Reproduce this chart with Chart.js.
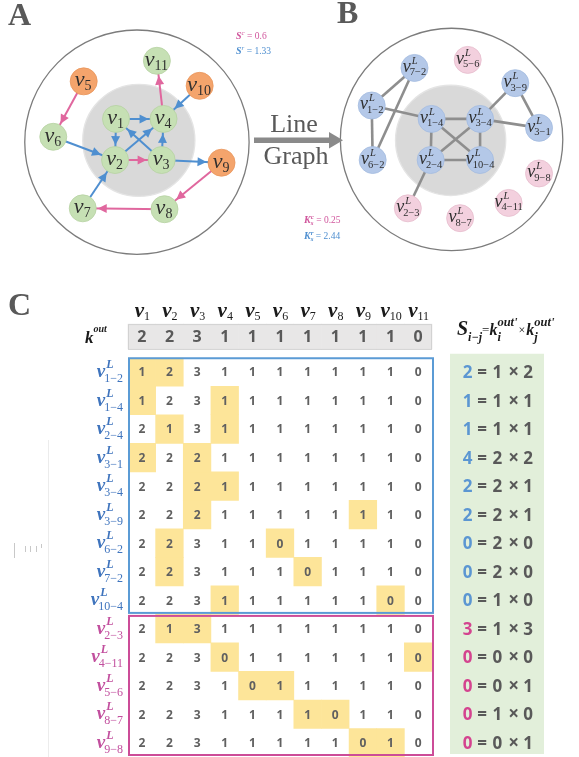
<!DOCTYPE html>
<html>
<head>
<meta charset="utf-8">
<script src="https://cdn.jsdelivr.net/npm/chart.js@4/dist/chart.umd.min.js"></script>
<style>
html, body { margin: 0; padding: 0; background: #fff; }
#wrap { position: relative; width: 579px; height: 757px; overflow: hidden; }
canvas { position: absolute; left: 0; }
#netChart { top: 0; width: 579px; height: 270px; }
#matChart { top: 270px; width: 579px; height: 487px; }
</style>
</head>
<body>
<div id="wrap">
  <canvas id="netChart" width="579" height="270"></canvas>
  <canvas id="matChart" width="579" height="487"></canvas>
</div>
<script>
// ---- panel A: the directed network ----
const nodesA = ['1', '2', '3', '4', '5', '6', '7', '8', '9', '10', '11'];
const kindA = ['core', 'core', 'core', 'core', 'out', 'core', 'core', 'core', 'out', 'out', 'core'];
const layoutAX = [107, 106, 155, 157, 73, 41, 72, 158, 218, 195, 150];
const layoutAY = [117, 163, 163, 117, 75, 137, 217, 218, 166, 80, 52];
// [from, to, type]  r = rich-club link (blue), c = other link (pink)
const edgesA = [
  ['1', '4', 'r'], ['1', '2', 'r'], ['2', '4', 'r'], ['3', '1', 'r'], ['3', '4', 'r'],
  ['3', '9', 'r'], ['6', '2', 'r'], ['7', '2', 'r'], ['10', '4', 'r'],
  ['5', '6', 'c'], ['4', '11', 'c'], ['2', '3', 'c'], ['9', '8', 'c'], ['8', '7', 'c']
];
const statsA = [['c', '0.6'], ['r', '1.33']];

// ---- panel B: the line graph ----
const nodesB = ['1-2', '1-4', '2-4', '3-1', '3-4', '3-9', '6-2', '7-2', '10-4', '2-3', '4-11', '5-6', '8-7', '9-8'];
const kindB = ['r', 'r', 'r', 'r', 'r', 'r', 'r', 'r', 'r', 'c', 'c', 'c', 'c', 'c'];
const layoutBX = [376, 439, 438, 552, 490, 527, 377, 421, 490, 414, 520, 477, 469, 552];
const layoutBY = [102, 117, 163, 127, 117, 77, 163, 60, 163, 217, 211, 51, 228, 178];
const edgesB = [
  ['7-2', '1-2'], ['7-2', '6-2'], ['1-2', '6-2'], ['1-2', '1-4'], ['1-4', '3-4'],
  ['1-4', '2-4'], ['1-4', '10-4'], ['3-4', '2-4'], ['3-4', '10-4'], ['2-4', '10-4'],
  ['3-4', '3-9'], ['3-4', '3-1'], ['3-9', '3-1'], ['2-4', '2-3']
];
const statsB = [['c', '0.25'], ['r', '2.44']];

// ---- panel C: the out-degree matrix ----
const colLabels = ['1', '2', '3', '4', '5', '6', '7', '8', '9', '10', '11'];
const kOut = [2, 2, 3, 1, 1, 1, 1, 1, 1, 1, 0];
const rowLabels = nodesB;
const rowKind = kindB;
const matrix = [
  [1, 2, 3, 1, 1, 1, 1, 1, 1, 1, 0],
  [1, 2, 3, 1, 1, 1, 1, 1, 1, 1, 0],
  [2, 1, 3, 1, 1, 1, 1, 1, 1, 1, 0],
  [2, 2, 2, 1, 1, 1, 1, 1, 1, 1, 0],
  [2, 2, 2, 1, 1, 1, 1, 1, 1, 1, 0],
  [2, 2, 2, 1, 1, 1, 1, 1, 1, 1, 0],
  [2, 2, 3, 1, 1, 0, 1, 1, 1, 1, 0],
  [2, 2, 3, 1, 1, 1, 0, 1, 1, 1, 0],
  [2, 2, 3, 1, 1, 1, 1, 1, 1, 0, 0],
  [2, 1, 3, 1, 1, 1, 1, 1, 1, 1, 0],
  [2, 2, 3, 0, 1, 1, 1, 1, 1, 1, 0],
  [2, 2, 3, 1, 0, 1, 1, 1, 1, 1, 0],
  [2, 2, 3, 1, 1, 1, 1, 0, 1, 1, 0],
  [2, 2, 3, 1, 1, 1, 1, 1, 0, 1, 0]
];
// highlighted columns (1-based) in each row
const marked = [[1, 2], [1, 4], [2, 4], [1, 3], [3, 4], [3, 9], [2, 6], [2, 7], [4, 10], [2, 3], [4, 11], [5, 6], [7, 8], [9, 10]];
const sVal = [2, 1, 1, 4, 2, 2, 0, 0, 0, 3, 0, 0, 0, 0];
const kiVal = [1, 1, 1, 2, 2, 2, 2, 2, 1, 1, 0, 0, 1, 0];
const kjVal = [2, 1, 1, 2, 1, 1, 0, 0, 0, 3, 0, 1, 0, 1];

const SERIF = '"Liberation Serif", "Times New Roman", serif';
const SANS = '"Open Sans", "Noto Sans", sans-serif';
const BLUE = '#5b9bd5';
const GREY = '#595959';

function rich(ctx, x, y, parts, align) {
  // parts: {t, f, c, dy, gap} or {up, dn, f, c, dyUp, dyDn}
  const widths = parts.map(p => {
    ctx.font = p.f;
    if (p.up !== undefined) return Math.max(ctx.measureText(p.up).width, ctx.measureText(p.dn).width);
    return ctx.measureText(p.t).width + (p.gap || 0);
  });
  const total = widths.reduce((a, b) => a + b, 0);
  let cx = align === 'center' ? x - total / 2 : align === 'right' ? x - total : x;
  ctx.textAlign = 'left';
  ctx.textBaseline = 'alphabetic';
  parts.forEach((p, i) => {
    ctx.font = p.f;
    ctx.fillStyle = p.c;
    if (p.up !== undefined) {
      ctx.fillText(p.up, cx, y + p.dyUp);
      ctx.fillText(p.dn, cx, y + p.dyDn);
    } else {
      ctx.fillText(p.t, cx + (p.gap || 0) / 2, y + (p.dy || 0));
    }
    cx += widths[i];
  });
}

function vLabel(ctx, x, base, o) {
  const b = o.bold ? 'bold ' : '';
  const vf = b + 'italic ' + o.size + 'px ' + SERIF;
  const supf = b + 'italic ' + o.small + 'px ' + SERIF;
  const subf = o.small + 'px ' + SERIF;
  ctx.font = vf; const wv = ctx.measureText('v').width;
  ctx.font = supf; const wsup = o.sup ? ctx.measureText(o.sup).width : 0;
  ctx.font = subf; const wsub = ctx.measureText(o.sub).width;
  const w = wv + Math.max(wsup + 1, wsub - 1);
  const x0 = o.align === 'right' ? x - w : x - w / 2;
  ctx.textAlign = 'left'; ctx.textBaseline = 'alphabetic'; ctx.fillStyle = o.color;
  ctx.font = vf; ctx.fillText('v', x0, base);
  if (o.sup) { ctx.font = supf; ctx.fillText(o.sup, x0 + wv + 1, base + o.supDy); }
  ctx.font = subf; ctx.fillText(o.sub, x0 + wv - (o.sup ? 1 : 0), base + o.subDy);
}

const posA = Object.fromEntries(nodesA.map((n, i) => [n, { x: layoutAX[i], y: layoutAY[i] }]));
const posB = Object.fromEntries(nodesB.map((n, i) => [n, { x: layoutBX[i], y: layoutBY[i] }]));
const NODE_R = 13.5;

const netDatasets = [
  {
    label: 'A nodes', order: 0,
    data: nodesA.map(n => posA[n]),
    pointRadius: NODE_R, pointHoverRadius: NODE_R,
    pointBackgroundColor: kindA.map(k => k === 'core' ? '#c6e0b4' : '#f4a46c'),
    pointBorderColor: kindA.map(k => k === 'core' ? '#b6d2a2' : '#e8955c'),
    pointBorderWidth: 0.8
  },
  {
    label: 'B nodes', order: 0,
    data: nodesB.map(n => posB[n]),
    pointRadius: NODE_R, pointHoverRadius: NODE_R,
    pointBackgroundColor: kindB.map(k => k === 'r' ? '#b4c8e8' : '#f3d0de'),
    pointBorderColor: kindB.map(k => k === 'r' ? '#a3bbdf' : '#e6bccd'),
    pointBorderWidth: 0.8
  }
];
edgesA.forEach(e => netDatasets.push({
  label: 'A ' + e[0] + '>' + e[1], order: 2, showLine: true,
  data: [posA[e[0]], posA[e[1]]],
  borderColor: e[2] === 'r' ? '#4f8fd0' : '#e0679e', borderWidth: 2, pointRadius: 0
}));
edgesB.forEach(e => netDatasets.push({
  label: 'B ' + e[0] + '-' + e[1], order: 2, showLine: true,
  data: [posB[e[0]], posB[e[1]]],
  borderColor: '#8e8e8e', borderWidth: 2.6, pointRadius: 0
}));

const netDeco = {
  id: 'netDeco',
  beforeDatasetsDraw(chart) {
    const { ctx, scales: { x, y } } = chart;
    const circ = (cx, cy, r, fill, stroke) => {
      ctx.beginPath();
      ctx.arc(x.getPixelForValue(cx), y.getPixelForValue(cy), x.getPixelForValue(r) - x.getPixelForValue(0), 0, Math.PI * 2);
      if (fill) { ctx.fillStyle = fill; ctx.fill(); }
      if (stroke) { ctx.strokeStyle = stroke; ctx.lineWidth = 1.3; ctx.stroke(); }
    };
    ctx.save();
    circ(129, 143, 118, null, '#7c7c7c');
    circ(131, 141, 59, '#d9d9d9', '#e4e4e4');
    circ(460, 140, 117, null, '#7c7c7c');
    circ(459, 141, 58, '#d9d9d9', '#e4e4e4');
    ctx.restore();
  },
  afterDatasetsDraw(chart) {
    const { ctx, scales: { x, y } } = chart;
    ctx.save();
    // arrow heads on panel A
    edgesA.forEach(e => {
      const a = posA[e[0]], b = posA[e[1]];
      const ax = x.getPixelForValue(a.x), ay = y.getPixelForValue(a.y);
      const bx = x.getPixelForValue(b.x), by = y.getPixelForValue(b.y);
      const d = Math.hypot(bx - ax, by - ay), ux = (bx - ax) / d, uy = (by - ay) / d;
      const tx = bx - ux * (NODE_R + 1.5), ty = by - uy * (NODE_R + 1.5);
      const L = 9, W = 4.5;
      ctx.beginPath();
      ctx.moveTo(tx, ty);
      ctx.lineTo(tx - ux * L - uy * W, ty - uy * L + ux * W);
      ctx.lineTo(tx - ux * L + uy * W, ty - uy * L - ux * W);
      ctx.closePath();
      ctx.fillStyle = e[2] === 'r' ? '#4f8fd0' : '#e0679e';
      ctx.fill();
    });
    // node labels
    nodesA.forEach(n => {
      vLabel(ctx, x.getPixelForValue(posA[n].x) - 1, y.getPixelForValue(posA[n].y) + 5,
        { size: 22, small: 14, sub: n, subDy: 4, color: '#2f2f2f', align: 'center' });
    });
    nodesB.forEach(n => {
      vLabel(ctx, x.getPixelForValue(posB[n].x), y.getPixelForValue(posB[n].y) + 4,
        { size: 18, small: 10.5, sup: 'L', supDy: -8, sub: n.replace('-', '\u2212'), subDy: 3.5, color: '#2f2f2f', align: 'center' });
    });
    // panel letters
    ctx.fillStyle = GREY;
    ctx.font = 'bold 32px ' + SERIF;
    ctx.textAlign = 'left'; ctx.textBaseline = 'alphabetic';
    ctx.fillText('A', 8, 25);
    ctx.fillText('B', 337, 23);
    // S values (panel A)
    statsA.forEach((s, i) => {
      const col = s[0] === 'c' ? '#d0559c' : '#4f8fd0';
      rich(ctx, 236, 39 + i * 15, [
        { t: 'S', f: 'bold italic 10px ' + SERIF, c: col },
        { t: s[0], f: 'italic 7px ' + SERIF, c: col, dy: -4 },
        { t: ' = ' + s[1], f: '9.5px ' + SERIF, c: col }
      ], 'left');
    });
    // K values (panel B)
    statsB.forEach((s, i) => {
      const col = s[0] === 'c' ? '#d0559c' : '#4f8fd0';
      rich(ctx, 304, 223 + i * 15.5, [
        { t: 'K', f: 'bold italic 10px ' + SERIF, c: col },
        { up: s[0], dn: 's', f: 'bold italic 7px ' + SERIF, c: col, dyUp: -4, dyDn: 2 },
        { t: ' = ' + s[1], f: '9.5px ' + SERIF, c: col }
      ], 'left');
    });
    // "Line Graph" arrow
    ctx.fillStyle = '#8a8a8a';
    ctx.fillRect(254, 137.5, 76, 5.5);
    ctx.beginPath();
    ctx.moveTo(329, 132); ctx.lineTo(343, 140.2); ctx.lineTo(329, 148.5); ctx.closePath();
    ctx.fill();
    ctx.fillStyle = GREY;
    ctx.font = '26px ' + SERIF;
    ctx.textAlign = 'center';
    ctx.fillText('Line', 294, 132);
    ctx.fillText('Graph', 296, 164);
    ctx.restore();
  }
};

new Chart(document.getElementById('netChart'), {
  type: 'scatter',
  data: { datasets: netDatasets },
  options: {
    responsive: false, animation: false, events: [],
    layout: { padding: 0 },
    plugins: { legend: { display: false }, tooltip: { enabled: false } },
    scales: {
      x: { type: 'linear', display: false, min: 0, max: 579 },
      y: { type: 'linear', display: false, min: 0, max: 270, reverse: true }
    }
  },
  plugins: [netDeco]
});

// ---- matrix chart ----
const BAND = [-0.68, 0.19];
const matDatasets = [{
  label: 'k out band', data: kOut.map(() => BAND), backgroundColor: '#e8e7e7',
  borderWidth: 0, clip: false, grouped: false, barPercentage: 1, categoryPercentage: 1
}];
marked.forEach((cols, r) => {
  matDatasets.push({
    label: 'row ' + rowLabels[r],
    data: colLabels.map((c, j) => cols.includes(j + 1) ? [r + 0.5, r + 1.5] : null),
    backgroundColor: '#fde599', borderWidth: 0, grouped: false,
    barPercentage: 1, categoryPercentage: 1
  });
});

const matDeco = {
  id: 'matDeco',
  afterDatasetsDraw(chart) {
    const { ctx, scales: { x, y } } = chart;
    const X = j => x.getPixelForValue(j);
    const Y = v => y.getPixelForValue(v);
    const left = chart.chartArea.left, right = chart.chartArea.right;
    ctx.save();
    // faint marks at the far left
    ctx.strokeStyle = '#ececec'; ctx.lineWidth = 1;
    ctx.beginPath(); ctx.moveTo(48.5, 170); ctx.lineTo(48.5, 487); ctx.stroke();
    ctx.strokeStyle = '#c8c8c8';
    [[14, 273, 288], [25, 276, 282], [30, 276, 282], [36, 276, 282], [41, 274, 278]].forEach(m => {
      ctx.beginPath(); ctx.moveTo(m[0] + 0.5, m[1]); ctx.lineTo(m[0] + 0.5, m[2]); ctx.stroke();
    });
    // band outline
    ctx.strokeStyle = '#d2d2d2'; ctx.lineWidth = 1;
    ctx.strokeRect(left + 0.5, Y(BAND[0]) + 0.5, right - left - 1, Y(BAND[1]) - Y(BAND[0]));
    // panel letter
    ctx.fillStyle = GREY; ctx.font = 'bold 32px ' + SERIF; ctx.textAlign = 'left'; ctx.textBaseline = 'alphabetic';
    ctx.fillText('C', 8, 45);
    // column headers
    colLabels.forEach((c, j) => {
      vLabel(ctx, X(j), Y(-0.93), { bold: true, size: 21, small: 12, sub: c, subDy: 3, color: '#1a1a1a', align: 'center' });
    });
    // k^out label
    rich(ctx, 85, Y(-0.245) + 6, [
      { t: 'k', f: 'bold italic 17px ' + SERIF, c: '#1a1a1a' },
      { t: 'out', f: 'bold italic 10px ' + SERIF, c: '#1a1a1a', dy: -11 }
    ], 'left');
    // k^out numbers
    ctx.textAlign = 'center'; ctx.textBaseline = 'middle';
    ctx.font = 'bold 16px ' + SANS; ctx.fillStyle = GREY;
    kOut.forEach((v, j) => ctx.fillText(String(v), X(j), Y(-0.245) + 1));
    // cell numbers
    ctx.font = 'bold 12px ' + SANS; ctx.fillStyle = '#606060';
    matrix.forEach((row, r) => row.forEach((v, j) => ctx.fillText(String(v), X(j), Y(r + 1) + 1)));
    // row labels
    rowLabels.forEach((n, r) => {
      vLabel(ctx, 123, Y(r + 1) + 5, {
        bold: true, size: 19, small: 12, sup: 'L', supDy: -9, sub: n.replace('-', '\u2212'), subDy: 5,
        color: rowKind[r] === 'r' ? '#3f74bd' : '#c24f9e', align: 'right'
      });
    });
    // group boxes
    const split = rowKind.indexOf('c');
    ctx.lineWidth = 2;
    ctx.strokeStyle = BLUE;
    ctx.strokeRect(left + 1, Y(0.5) + 0.5, right - left, Y(split + 0.5) - Y(0.5) - 2);
    ctx.strokeStyle = '#cc4c98';
    ctx.strokeRect(left + 1, Y(split + 0.5) + 1.5, right - left, Y(rowKind.length + 0.5) - Y(split + 0.5) - 3.5);
    // equation column
    ctx.fillStyle = '#e2efda';
    ctx.fillRect(450, Y(0.5) - 4, 94, Y(14.5) - Y(0.5) + 1);
    const eqF = 'bold 17px ' + SANS;
    sVal.forEach((s, r) => {
      rich(ctx, 497, Y(r + 1) + 6, [
        { t: String(s), f: eqF, c: rowKind[r] === 'r' ? '#5b96d2' : '#d4438f', gap: 3 },
        { t: '=', f: eqF, c: GREY, gap: 7 },
        { t: String(kiVal[r]), f: eqF, c: GREY, gap: 4 },
        { t: '\u00d7', f: 'bold 19px ' + SANS, c: GREY, gap: 8 },
        { t: String(kjVal[r]), f: eqF, c: GREY }
      ], 'center');
    });
    // equation header
    const hb = 65, ink = '#1a1a1a';
    rich(ctx, 457, hb, [
      { t: 'S', f: 'bold italic 20px ' + SERIF, c: ink },
      { t: 'i\u2212j', f: 'bold italic 12px ' + SERIF, c: ink, dy: 6 },
      { t: '=', f: '13px ' + SERIF, c: ink, dy: -1 },
      { t: 'k', f: 'bold italic 16px ' + SERIF, c: ink },
      { up: "out'", dn: 'i', f: 'bold italic 12.5px ' + SERIF, c: ink, dyUp: -9, dyDn: 6 },
      { t: '\u00d7', f: '12px ' + SERIF, c: ink, dy: -1, gap: 2 },
      { t: 'k', f: 'bold italic 16px ' + SERIF, c: ink },
      { up: "out'", dn: 'j', f: 'bold italic 12.5px ' + SERIF, c: ink, dyUp: -9, dyDn: 6 }
    ], 'left');
    ctx.restore();
  }
};

new Chart(document.getElementById('matChart'), {
  type: 'bar',
  data: { labels: colLabels.map(c => 'v' + c), datasets: matDatasets },
  options: {
    responsive: false, animation: false, events: [],
    layout: { padding: { left: 128, right: 147, top: 87.75, bottom: 0 } },
    plugins: { legend: { display: false }, tooltip: { enabled: false } },
    scales: {
      x: { type: 'category', display: false, offset: true },
      y: { type: 'linear', display: false, min: 0.5, max: 14.5, reverse: true }
    }
  },
  plugins: [matDeco]
});
</script>
</body>
</html>
